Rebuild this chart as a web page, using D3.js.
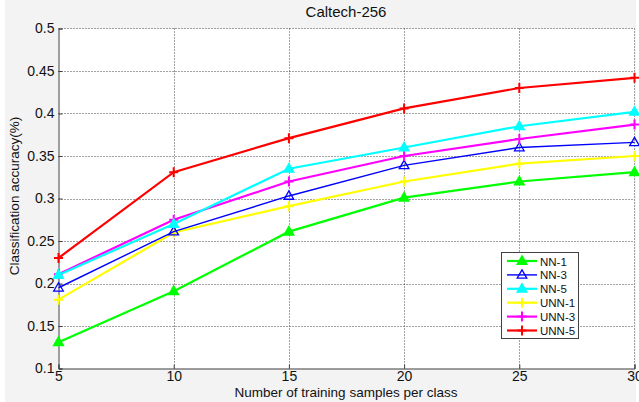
<!DOCTYPE html>
<html>
<head>
<meta charset="utf-8">
<script src="https://cdn.jsdelivr.net/npm/d3@7"></script>
<style>
  body { margin: 0; background: #fff; }
  text { font-family: Arial, "Liberation Sans", sans-serif; fill: #111; }
</style>
</head>
<body>
<svg id="chart" width="639" height="402"></svg>
<script>
var samples = [5, 10, 15, 20, 25, 30];
var xTicks = [5, 10, 15, 20, 25, 30];
var yTicks = [0.1, 0.15, 0.2, 0.25, 0.3, 0.35, 0.4, 0.45, 0.5];

var nn1  = [0.131, 0.191, 0.261, 0.301, 0.320, 0.331];
var nn3  = [0.195, 0.261, 0.303, 0.339, 0.360, 0.366];
var nn5  = [0.210, 0.270, 0.335, 0.360, 0.385, 0.402];
var unn1 = [0.181, 0.260, 0.291, 0.320, 0.341, 0.350];
var unn3 = [0.211, 0.275, 0.320, 0.350, 0.370, 0.387];
var unn5 = [0.230, 0.331, 0.371, 0.406, 0.430, 0.442];

var seriesNames = ['NN-1', 'NN-3', 'NN-5', 'UNN-1', 'UNN-3', 'UNN-5'];
var seriesValues = [nn1, nn3, nn5, unn1, unn3, unn5];
var seriesColors = ['#00ff00', '#0000ff', '#00ffff', '#ffff00', '#ff00ff', '#ff0000'];
var seriesMarkers = ['tri', 'opentri', 'tri', 'plus', 'plus', 'plus'];

var svg = d3.select('#chart');
var pLeft = 58.5, pRight = 634.5, pTop = 28.5, pBottom = 368.5;

svg.append('rect').attr('x', 5).attr('y', 0).attr('width', 631).attr('height', 402).attr('fill', '#f3f3f3');
svg.append('rect').attr('x', pLeft).attr('y', pTop).attr('width', pRight - pLeft).attr('height', pBottom - pTop).attr('fill', '#fff');

var x = d3.scaleLinear().domain([5, 30]).range([pLeft, pRight]);
var y = d3.scaleLinear().domain([0.1, 0.5]).range([pBottom, pTop]);

// dotted grid
svg.append('g').selectAll('line').data(xTicks.slice(1, -1)).enter().append('line')
  .attr('x1', d => Math.round(x(d)) + 0.5).attr('x2', d => Math.round(x(d)) + 0.5)
  .attr('y1', pTop).attr('y2', pBottom)
  .attr('stroke', '#444').attr('stroke-dasharray', '1,2');
svg.append('g').selectAll('line').data(yTicks.slice(1, -1)).enter().append('line')
  .attr('y1', d => Math.round(y(d)) + 0.5).attr('y2', d => Math.round(y(d)) + 0.5)
  .attr('x1', pLeft).attr('x2', pRight)
  .attr('stroke', '#444').attr('stroke-dasharray', '1,2');
// top and right dotted borders
svg.append('line').attr('x1', pLeft).attr('x2', pRight).attr('y1', pTop).attr('y2', pTop)
  .attr('stroke', '#444').attr('stroke-dasharray', '1,2');
svg.append('line').attr('x1', pRight).attr('x2', pRight).attr('y1', pTop).attr('y2', pBottom)
  .attr('stroke', '#444').attr('stroke-dasharray', '1,2');

// axes
var xAxis = svg.append('g').attr('transform', 'translate(0,' + pBottom + ')')
  .call(d3.axisBottom(x).tickValues(xTicks).tickSize(-4).tickPadding(3).tickFormat(d3.format('d')));
var yAxis = svg.append('g').attr('transform', 'translate(' + pLeft + ',0)')
  .call(d3.axisLeft(y).tickValues(yTicks).tickSize(-4).tickPadding(4).tickFormat(d => String(d)));
[xAxis, yAxis].forEach(function(a) {
  a.select('.domain').attr('stroke', '#404040');
  a.selectAll('.tick line').attr('stroke', '#404040');
  a.selectAll('.tick text').style('font-size', '14px').attr('fill', '#111');
});
xAxis.selectAll('.tick text').attr('dy', '0.71em');

// lines and markers
var line = d3.line().x((d, i) => x(samples[i])).y(d => y(d));
var tri = d3.symbol().type(d3.symbolTriangle).size(40);

function drawMarker(g, kind, color, cx, cy) {
  if (kind === 'plus') {
    g.append('path').attr('d', 'M' + (cx - 4.5) + ',' + cy + 'H' + (cx + 4.5) + 'M' + cx + ',' + (cy - 5) + 'V' + (cy + 5))
      .attr('stroke', color).attr('stroke-width', 2).attr('fill', 'none');
  } else {
    g.append('path').attr('d', tri()).attr('transform', 'translate(' + cx + ',' + (cy + 0.5) + ')')
      .attr('fill', kind === 'tri' ? color : 'none')
      .attr('stroke', color).attr('stroke-width', kind === 'tri' ? 1.5 : 1.3);
  }
}

var plotOrder = [3, 0, 1, 4, 2, 5];
plotOrder.forEach(function(si) {
  var g = svg.append('g');
  g.append('path').datum(seriesValues[si]).attr('d', line)
    .attr('fill', 'none').attr('stroke', seriesColors[si])
    .attr('stroke-width', si === 1 ? 1.4 : 2.2);
  seriesValues[si].forEach(function(v, i) {
    drawMarker(g, seriesMarkers[si], seriesColors[si], x(samples[i]), y(v));
  });
});

// legend
var lx = 501.5, ly = 252.5, lw = 77, lh = 86;
svg.append('rect').attr('x', lx).attr('y', ly).attr('width', lw).attr('height', lh)
  .attr('fill', '#fff').attr('stroke', '#404040');
seriesNames.forEach(function(name, i) {
  var ry = 261 + i * 13.9;
  var g = svg.append('g');
  g.append('line').attr('x1', 507).attr('x2', 537).attr('y1', ry).attr('y2', ry)
    .attr('stroke', seriesColors[i]).attr('stroke-width', i === 1 ? 1.4 : 2.2);
  drawMarker(g, seriesMarkers[i], seriesColors[i], 522, ry);
  g.append('text').attr('x', 540).attr('y', ry + 4.5).style('font-size', '11.5px').text(name);
});

// title and labels
svg.append('text').attr('x', 346).attr('y', 17).attr('text-anchor', 'middle')
  .style('font-size', '15px').text('Caltech-256');
svg.append('text').attr('x', 346).attr('y', 397).attr('text-anchor', 'middle')
  .style('font-size', '13.5px').text('Number of training samples per class');
svg.append('text').attr('transform', 'translate(19,196) rotate(-90)').attr('text-anchor', 'middle')
  .style('font-size', '13.5px').text('Classification accuracy(%)');
</script>
</body>
</html>
